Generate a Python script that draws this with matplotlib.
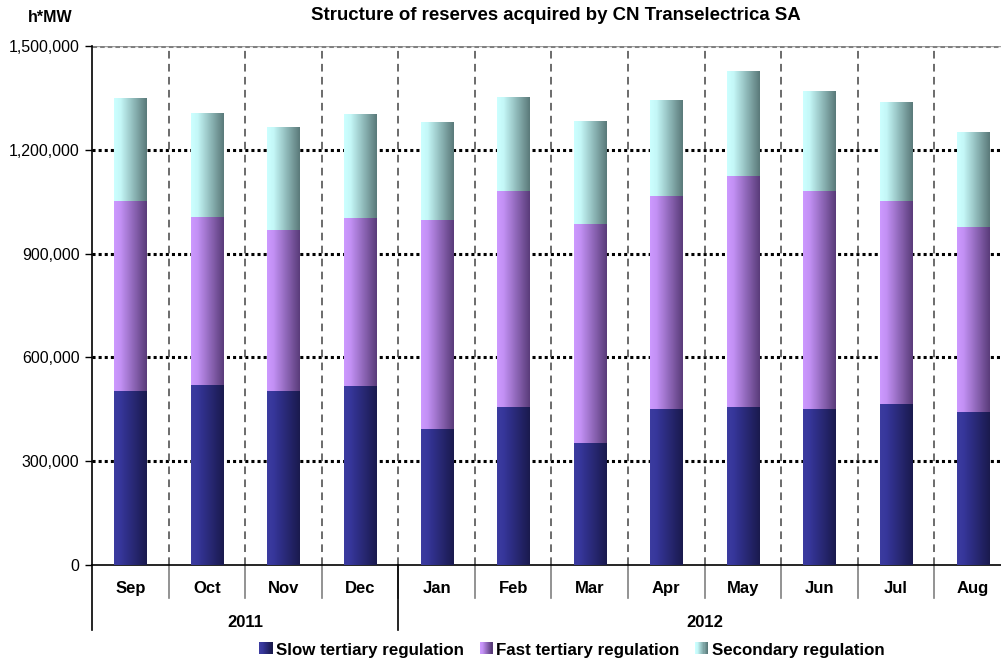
import numpy as np
import matplotlib.pyplot as plt
from matplotlib.colors import LinearSegmentedColormap
from matplotlib.patches import Patch, Rectangle
from matplotlib.legend_handler import HandlerBase

plt.rcParams['font.family'] = ['Liberation Sans', 'DejaVu Sans']

months = ["Sep", "Oct", "Nov", "Dec", "Jan", "Feb", "Mar", "Apr", "May", "Jun", "Jul", "Aug"]
years = ["2011", "2012"]
year_span = [4, 8]
slow = [503000, 520000, 503000, 517000, 393000, 457000, 353000, 451000, 457000, 451000, 465000, 442000]
fast = [549000, 486000, 465000, 486000, 604000, 624000, 633000, 616000, 668000, 630000, 587000, 535000]
secondary = [296000, 298000, 295000, 298000, 283000, 269000, 295000, 277000, 301000, 289000, 286000, 272000]
series_names = ["Slow tertiary regulation", "Fast tertiary regulation", "Secondary regulation"]

# gradient colormaps (light left -> dark right)
grad = {
    "slow": LinearSegmentedColormap.from_list("s", [(0, "#3c3ca0"), (0.2, "#36369a"), (1, "#1a1a4e")]),
    "fast": LinearSegmentedColormap.from_list("f", [(0, "#cc99ff"), (0.2, "#c290f4"), (1, "#5a3c7a")]),
    "sec": LinearSegmentedColormap.from_list("c", [(0, "#ccffff"), (0.2, "#c4f7f7"), (1, "#5a7a7a")]),
}


class GradHandler(HandlerBase):
    def __init__(self, cmap):
        super().__init__()
        self.cmap = cmap

    def create_artists(self, legend, orig, xd, yd, width, height, fontsize, trans):
        n = 12
        arts = []
        for i in range(n):
            r = Rectangle((xd + width * i / n, yd), width / n + 0.3, height,
                          facecolor=self.cmap(i / (n - 1)), edgecolor="none", transform=trans)
            arts.append(r)
        return arts


fig = plt.figure(figsize=(10.01, 6.6), dpi=100)
ax = fig.add_axes([92 / 1001, 95 / 660, 919 / 1001, 519 / 660])

x = np.arange(len(months))
w = 0.42
g = np.linspace(0, 1, 64).reshape(1, -1)
bottoms = np.zeros(len(months))
for vals, key in zip([slow, fast, secondary], ["slow", "fast", "sec"]):
    for xi, b, v in zip(x, bottoms, vals):
        ax.imshow(g, cmap=grad[key], aspect="auto", extent=(xi - w / 2, xi + w / 2, b, b + v),
                  zorder=3, interpolation="bilinear")
    bottoms = bottoms + np.array(vals)

ax.set_xlim(-0.5, len(months) - 0.5)
ax.set_ylim(0, 1500000)

# grid
for yv in [300000, 600000, 900000, 1200000]:
    ax.axhline(yv, color="black", lw=2.2, ls=(0, (1, 1)), zorder=1)
ax.axhline(1500000, color="#a0a0a0", lw=1, zorder=1)
ax.axhline(1500000, color="#808080", lw=2.2, ls=(0, (1.5, 1)), zorder=1)
for xv in np.arange(0.5, len(months) - 0.5, 1):
    ax.axvline(xv, color="#444444", lw=1.1, ls=(0, (5, 3.5)), zorder=1)

yt = np.arange(0, 1500001, 300000)
ax.set_yticks(yt)
ax.set_yticklabels([f"{v:,}" for v in yt], fontsize=11.5)
ax.tick_params(axis="y", length=5, width=1, pad=4)
ax.set_xticks([])
for s in ["top", "right"]:
    ax.spines[s].set_visible(False)
ax.spines["left"].set_linewidth(1.2)
ax.spines["bottom"].set_linewidth(1.2)

# category labels
tr = ax.get_xaxis_transform()
for xi, m in zip(x, months):
    ax.text(xi, -0.046, m, transform=tr, ha="center", va="center", fontsize=12, fontweight="bold")
for xv in np.arange(0.5, len(months) - 0.5, 1):
    ax.plot([xv, xv], [0, -0.064], transform=tr, color="#808080", lw=1.2, clip_on=False)
start = -0.5
for yr, span in zip(years, year_span):
    ax.text(start + span / 2, -0.111, yr, transform=tr, ha="center", va="center", fontsize=12, fontweight="bold")
    ax.plot([start, start], [0, -0.125], transform=tr, color="black", lw=1.2, clip_on=False)
    start += span

fig.text(556 / 1001, 1 - 15 / 660, "Structure of reserves acquired by CN Transelectrica SA",
         ha="center", va="center", fontsize=13.4, fontweight="bold")
fig.text(50 / 1001, 1 - 18 / 660, "h*MW", ha="center", va="center", fontsize=11.5, fontweight="bold")

handles = [Patch(facecolor="none", edgecolor="none", label=n) for n in series_names]
hmap = {h: GradHandler(grad[k]) for h, k in zip(handles, ["slow", "fast", "sec"])}
fig.legend(handles, series_names, loc="center", bbox_to_anchor=(572 / 1001, 1 - 650 / 660), ncol=3,
           frameon=False, prop={"size": 12.2, "weight": "bold"}, handlelength=0.75, handleheight=0.75,
           handletextpad=0.25, columnspacing=0.9, handler_map=hmap)

fig.savefig("out.png", dpi=100)
